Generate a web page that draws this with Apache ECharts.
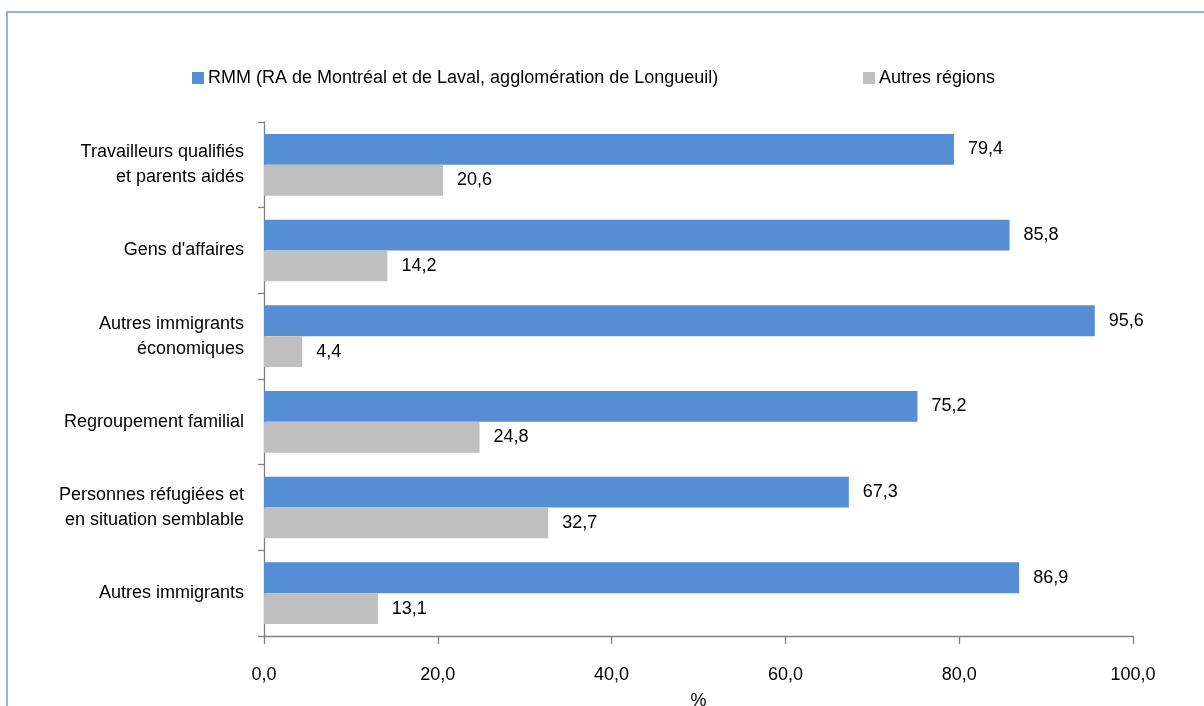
<!DOCTYPE html>
<html>
<head>
<meta charset="utf-8">
<script src="https://cdn.jsdelivr.net/npm/echarts@6/dist/echarts.min.js"></script>
<style>
html,body{margin:0;padding:0;background:#fff;}
#chart{width:1204px;height:706px;}
</style>
</head>
<body>
<div id="chart"></div>
<script>
var categories = [
  "Travailleurs qualifiés\net parents aidés",
  "Gens d'affaires",
  "Autres immigrants\néconomiques",
  "Regroupement familial",
  "Personnes réfugiées et\nen situation semblable",
  "Autres immigrants"
];
var seriesNames = ["RMM (RA de Montréal et de Laval, agglomération de Longueuil)", "Autres régions"];
var rmmValues = [79.4, 85.8, 95.6, 75.2, 67.3, 86.9];
var autresValues = [20.6, 14.2, 4.4, 24.8, 32.7, 13.1];
var xTicks = [0, 20, 40, 60, 80, 100];
var xAxisName = "%";

var FONT = "'Liberation Sans', Arial, sans-serif";
var FS = 18;
function fmt(v){ return Number(v).toFixed(1).replace('.', ','); }

var chart = echarts.init(document.getElementById('chart'), null, {renderer:'canvas'});
var option = {
  animation: false,
  backgroundColor: '#ffffff',
  textStyle: {fontFamily: FONT},
  graphic: [{
    type: 'rect', silent: true, z: -1,
    shape: {x: 7, y: 12, width: 1400, height: 900},
    style: {fill: 'none', stroke: '#8db4e2', lineWidth: 2}
  }],
  legend: [{
    data: [seriesNames[0]],
    left: 187, top: 64,
    icon: 'rect', itemWidth: 12, itemHeight: 12, itemGap: 4,
    textStyle: {fontFamily: FONT, fontSize: FS, color: '#000', padding: [0,0,0,-1]}
  },{
    data: [seriesNames[1]],
    left: 858, top: 64,
    icon: 'rect', itemWidth: 12, itemHeight: 12, itemGap: 4,
    textStyle: {fontFamily: FONT, fontSize: FS, color: '#000', padding: [0,0,0,-1]}
  }],
  grid: {left: 264, right: 71, top: 122, bottom: 70, containLabel: false, outerBoundsMode: 'none'},
  xAxis: {
    type: 'value', min: 0, max: 100, interval: 20,
    name: xAxisName, nameLocation: 'middle', nameGap: 56,
    nameTextStyle: {fontFamily: FONT, fontSize: FS, color: '#000'},
    axisLine: {show: true, lineStyle: {color: '#808080', width: 1.3}},
    axisTick: {show: true, length: 8, lineStyle: {color: '#808080', width: 1.3}},
    splitLine: {show: false},
    axisLabel: {fontFamily: FONT, fontSize: FS, color: '#000', margin: 30,
      formatter: function(v){ return xTicks.indexOf(v) >= 0 ? fmt(v) : ''; }}
  },
  yAxis: {
    type: 'category', data: categories, inverse: true,
    axisLine: {show: true, lineStyle: {color: '#808080', width: 1.3}},
    axisTick: {show: true, length: 6, lineStyle: {color: '#808080', width: 1.3}},
    axisLabel: {fontFamily: FONT, fontSize: FS, color: '#000', margin: 20, lineHeight: 25, align: 'right'}
  },
  series: [{
    name: seriesNames[0], type: 'bar', data: rmmValues,
    barGap: '0%', barCategoryGap: '28%',
    itemStyle: {color: '#558ed5'},
    label: {show: true, position: 'right', distance: 14, fontFamily: FONT, fontSize: FS, color: '#000',
      formatter: function(p){ return fmt(p.value); }}
  },{
    name: seriesNames[1], type: 'bar', data: autresValues,
    barGap: '0%', barCategoryGap: '28%',
    itemStyle: {color: '#bfbfbf'},
    label: {show: true, position: 'right', distance: 14, fontFamily: FONT, fontSize: FS, color: '#000',
      formatter: function(p){ return fmt(p.value); }}
  }]
};
chart.setOption(option);
</script>
</body>
</html>
